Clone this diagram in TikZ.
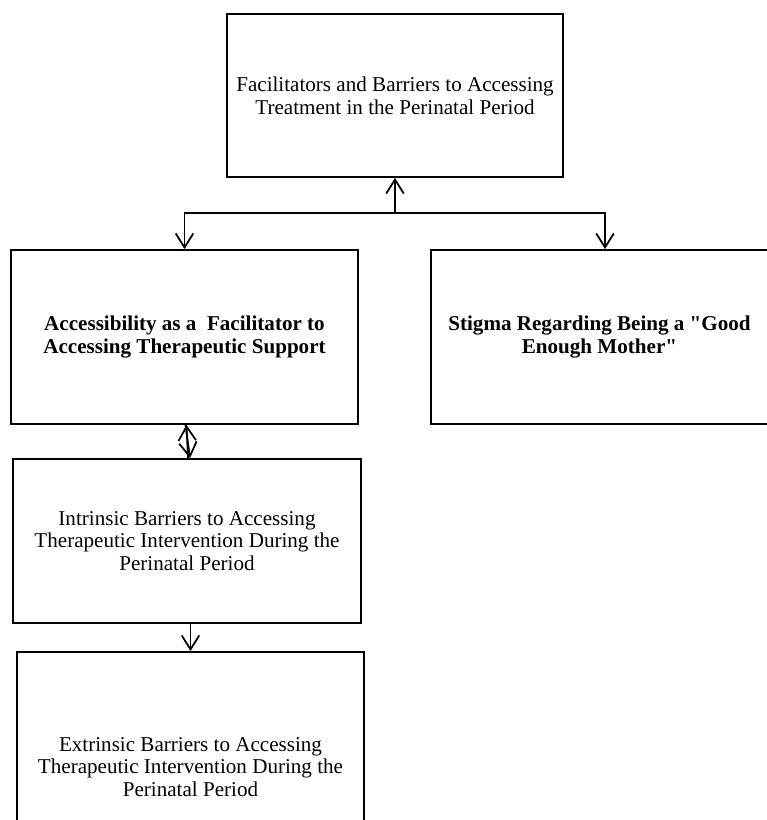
\documentclass[tikz,border=0pt]{standalone}
\usepackage{fontspec}
\setmainfont{Liberation Serif}[Ligatures=TeXOff]
\usetikzlibrary{arrows.meta}

\tikzset{box/.style={draw,line width=1pt,align=center,font=\fontsize{12}{13}\selectfont,inner sep=0pt}}
\tikzset{arr/.style={line width=1pt,-{Straight Barb[length=8pt,width=10pt,line width=1pt]}}}

\begin{document}
\begin{tikzpicture}
        \useasboundingbox (0,0) rectangle (15.34,-16.4);
        \clip (0,0) rectangle (15.34,-16.4);
        \node[box,minimum width=6.72cm,minimum height=3.26cm] (top) at (7.9,-1.91) {Facilitators and Barriers to Accessing\\Treatment in the Perinatal Period};
        \node[box,minimum width=6.94cm,minimum height=3.48cm,font=\fontsize{12}{13}\selectfont\bfseries] (access) at (3.69,-6.74) {Accessibility as a \ Facilitator to\\Accessing Therapeutic Support};
        \node[box,minimum width=6.74cm,minimum height=3.48cm,font=\fontsize{12}{13}\selectfont\bfseries] (stigma) at (11.99,-6.74) {Stigma Regarding Being a "Good\\Enough Mother"};
        \node[box,minimum width=6.96cm,minimum height=3.28cm] (intrinsic) at (3.74,-10.82) {Intrinsic Barriers to Accessing\\Therapeutic Intervention During the\\Perinatal Period};
        \node[box,minimum width=6.94cm,minimum height=4.6cm] (extrinsic) at (3.81,-15.34) {Extrinsic Barriers to Accessing\\Therapeutic Intervention During the\\Perinatal Period};
        \coordinate (split) at (7.9,-4.26);
        \draw[arr] (split) -- (top.south);
        \draw[arr] (split) -| (access.north);
        \draw[arr] (split) -| ([xshift=0.11cm]stigma.north);
        \draw[arr] ([xshift=0.02cm]access.south) -- ([xshift=0.06cm]intrinsic.north);
        \draw[arr] ([xshift=0.02cm]intrinsic.north) -- ([xshift=0.04cm]access.south);
        \draw[arr] (intrinsic.south -| extrinsic.north) -- (extrinsic.north);
    \end{tikzpicture}
\end{document}
